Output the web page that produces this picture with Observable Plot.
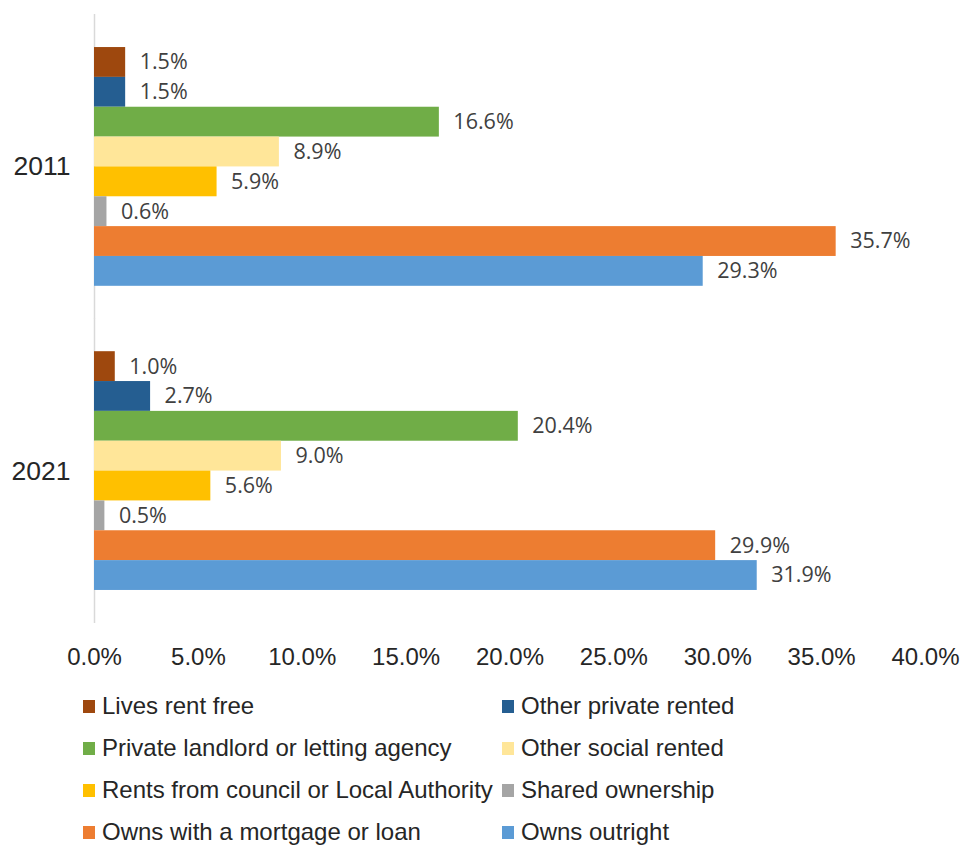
<!DOCTYPE html>
<html>
<head>
<meta charset="utf-8">
<script src="https://cdn.jsdelivr.net/npm/d3@7"></script>
<script src="https://cdn.jsdelivr.net/npm/@observablehq/plot@0.6"></script>
<style>
  html, body { margin: 0; padding: 0; background: #fff; overflow: hidden; }
  #chart { width: 967px; }
  .legend { display: grid; grid-template-columns: 419px 440px; padding-left: 83px; margin-top: 5px;
    font-family: "Liberation Sans", Arial, sans-serif; font-size: 24px; color: #262626; }
  .legend .item { height: 42px; display: flex; align-items: center; white-space: nowrap; }
  .legend .sw { width: 12px; height: 13px; margin-right: 7px; flex: none; }
  g[aria-label="fy-axis tick label"] text { font-size: 26.5px; }
</style>
</head>
<body>
<div id="chart"></div>
<script>
const years = ["2011", "2021"];
const categories = [
  "Lives rent free",
  "Other private rented",
  "Private landlord or letting agency",
  "Other social rented",
  "Rents from council or Local Authority",
  "Shared ownership",
  "Owns with a mortgage or loan",
  "Owns outright"
];
const values2011 = [1.5, 1.5, 16.6, 8.9, 5.9, 0.6, 35.7, 29.3];
const values2021 = [1.0, 2.7, 20.4, 9.0, 5.6, 0.5, 29.9, 31.9];
const colors = ["#9E480E", "#255E91", "#70AD47", "#FFE699", "#FFC000", "#A5A5A5", "#ED7D31", "#5B9BD5"];
const xTicks = [0, 5, 10, 15, 20, 25, 30, 35, 40];

const seriesByYear = [values2011, values2021];
const data = years.flatMap((yr, i) => categories.map((c, j) => ({year: yr, category: c, value: seriesByYear[i][j]})));

const chart = Plot.plot({
  width: 967,
  height: 680,
  marginLeft: 94,
  marginRight: 42,
  marginTop: 14.5,
  marginBottom: 57.5,
  style: {fontFamily: "'Liberation Sans', Arial, sans-serif", fontSize: "24px", color: "#262626", background: "#fff"},
  facet: {data, y: "year"},
  x: {domain: [0, 40], ticks: xTicks, tickFormat: d => d.toFixed(1) + "%", tickSize: 0, tickPadding: 57, label: null},
  y: {domain: categories, padding: 0, round: false, axis: null},
  fy: {domain: years, paddingInner: 0.215, paddingOuter: 0.107, round: false, tickSize: 0, tickPadding: 24, label: null},
  color: {domain: categories, range: colors},
  marks: [
    Plot.ruleX([0], {stroke: "#d9d9d9", strokeWidth: 1.5, insetTop: -33, insetBottom: -33}),
    Plot.barX(data, {x: "value", y: "category", fill: "category"}),
    Plot.text(data, {x: "value", y: "category", text: d => d.value.toFixed(1) + "%", textAnchor: "start", dx: 14,
      fontFamily: "'Open Sans', sans-serif", fontSize: 21.5, fill: "#404040"})
  ]
});
document.getElementById("chart").appendChild(chart);

const legend = document.createElement("div");
legend.className = "legend";
categories.forEach((c, i) => {
  const item = document.createElement("div");
  item.className = "item";
  const sw = document.createElement("span");
  sw.className = "sw";
  sw.style.background = colors[i];
  const label = document.createElement("span");
  label.textContent = c;
  item.appendChild(sw);
  item.appendChild(label);
  legend.appendChild(item);
});
document.getElementById("chart").appendChild(legend);
</script>
</body>
</html>
